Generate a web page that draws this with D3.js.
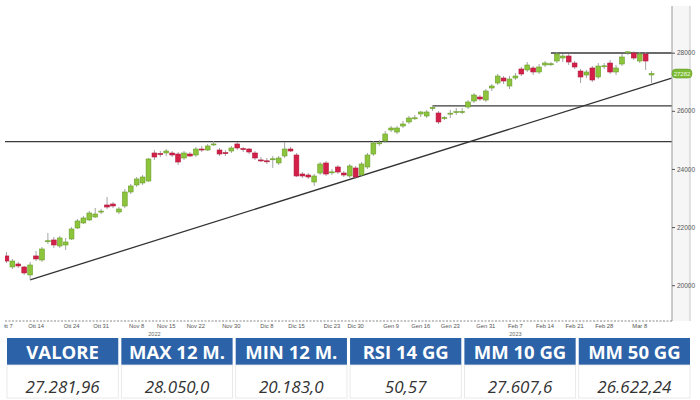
<!DOCTYPE html>
<html><head><meta charset="utf-8">
<script src="https://cdn.jsdelivr.net/npm/d3@7"></script>
<style>
html,body{margin:0;padding:0;background:#fff;}
svg{display:block;}
</style></head>
<body><svg id="c" width="700" height="400"></svg>
<script>
// ---- DATA ----
const dates = [
"2022-10-07","2022-10-10","2022-10-11","2022-10-12","2022-10-13","2022-10-14","2022-10-17","2022-10-18","2022-10-19","2022-10-20",
"2022-10-21","2022-10-24","2022-10-25","2022-10-26","2022-10-27","2022-10-28","2022-10-31","2022-11-01","2022-11-02","2022-11-03",
"2022-11-04","2022-11-07","2022-11-08","2022-11-09","2022-11-10","2022-11-11","2022-11-14","2022-11-15","2022-11-16","2022-11-17",
"2022-11-18","2022-11-21","2022-11-22","2022-11-23","2022-11-24","2022-11-25","2022-11-28","2022-11-29","2022-11-30","2022-12-01",
"2022-12-02","2022-12-05","2022-12-06","2022-12-07","2022-12-08","2022-12-09","2022-12-12","2022-12-13","2022-12-14","2022-12-15",
"2022-12-16","2022-12-19","2022-12-20","2022-12-21","2022-12-22","2022-12-23","2022-12-27","2022-12-28","2022-12-29","2022-12-30",
"2023-01-02","2023-01-03","2023-01-04","2023-01-05","2023-01-06","2023-01-09","2023-01-10","2023-01-11","2023-01-12","2023-01-13",
"2023-01-16","2023-01-17","2023-01-18","2023-01-19","2023-01-20","2023-01-23","2023-01-24","2023-01-25","2023-01-26","2023-01-27",
"2023-01-30","2023-01-31","2023-02-01","2023-02-02","2023-02-03","2023-02-06","2023-02-07","2023-02-08","2023-02-09","2023-02-10",
"2023-02-13","2023-02-14","2023-02-15","2023-02-16","2023-02-17","2023-02-20","2023-02-21","2023-02-22","2023-02-23","2023-02-24",
"2023-02-27","2023-02-28","2023-03-01","2023-03-02","2023-03-03","2023-03-06","2023-03-07","2023-03-08","2023-03-09","2023-03-10"
];
const open  = [21006,20627,20730,20627,20352,21006,20868,21500,21556,21350,21384,21590,21969,22141,22244,22347,22530,22760,22794,22519,
22726,23207,23448,23517,23585,24549,24530,24549,24549,24514,24377,24514,24480,24686,24652,24840,24652,24560,24618,24859,
24700,24686,24549,24310,24280,24330,24205,24446,24686,24480,23826,23792,23551,23860,24205,23880,24067,23860,23758,24033,
23792,24067,24514,24880,24962,25340,25271,25478,25616,25740,25891,25822,26090,25925,25740,25900,25950,25940,26131,26338,
26475,26372,26785,26957,27129,26854,27129,27439,27405,27474,27336,27577,27600,27714,27818,27886,27645,27370,27233,27474,
27164,27530,27645,27336,27611,28010,27990,27714,27955,27233];
const high  = [21143,20900,20800,20662,20800,21177,21315,21797,21660,21694,21625,21999,22278,22382,22554,22657,22622,23035,22863,22691,
23310,23482,23723,23792,24377,24652,24618,24686,24618,24583,24618,24583,24755,24790,24859,24962,24721,24652,24790,24927,
24755,24721,24618,24411,24377,24446,24446,24927,24755,24549,23895,23860,23826,24239,24274,23998,24136,23929,24170,24102,
24239,24549,24962,24996,25306,25478,25478,25650,25822,25856,25994,26028,26166,25994,25822,26028,26097,26097,26372,26613,
26544,26751,26923,27267,27198,27198,27301,27508,27680,27542,27611,27714,27680,28024,27955,27955,27714,27439,27405,27542,
27645,27645,27749,27577,27955,28050,28050,28024,28024,27370];
const low   = [20765,20559,20593,20352,20183,20832,20800,21418,21281,21281,21212,21556,21934,22106,22210,22313,22450,22622,22657,22450,
22657,23138,23380,23448,23551,24308,24411,24446,24411,24136,24308,24411,24411,24583,24618,24790,24446,24446,24549,24652,
24583,24514,24308,24239,24170,24033,24136,24377,24583,23723,23689,23655,23414,23792,23758,23792,23826,23723,23689,23655,
23723,23998,24446,24790,24893,25271,25203,25409,25547,25684,25788,25753,25994,25547,25684,25753,25856,25891,26063,26269,
26338,26304,26682,26889,26923,26751,27061,27198,27336,27233,27267,27508,27542,27645,27680,27577,27439,26957,27129,26992,
27095,27439,27267,27233,27542,27920,27749,27645,27405,26957];
const close = [20832,20832,20662,20421,20696,20903,21246,21530,21384,21625,21487,21934,22210,22313,22485,22450,22550,22690,22726,22622,
23207,23414,23655,23723,24343,24411,24500,24618,24480,24239,24549,24446,24686,24652,24790,24860,24514,24540,24721,24721,
24690,24583,24377,24300,24270,24350,24377,24686,24618,23758,23758,23723,23758,24170,23826,23900,23895,23792,24102,23723,
24170,24480,24893,24900,25203,25409,25409,25547,25753,25760,25960,25960,26110,25616,25770,25920,25970,25980,26304,26544,
26407,26682,26854,27198,27026,27095,27198,27267,27577,27336,27508,27645,27620,27955,27886,27680,27508,27164,27336,27061,
27542,27550,27336,27474,27852,28030,27818,27955,27714,27282];

const yTicks = [20000,22000,24000,26000,28000];
const xTickDates  = ["2022-10-07","2022-10-14","2022-10-24","2022-10-31","2022-11-08","2022-11-15","2022-11-22","2022-11-30","2022-12-08","2022-12-15","2022-12-23","2022-12-30","2023-01-09","2023-01-16","2023-01-23","2023-01-31","2023-02-07","2023-02-14","2023-02-21","2023-02-28","2023-03-08"];
const xTickLabels = ["Ott 7","Ott 14","Ott 24","Ott 31","Nov 8","Nov 15","Nov 22","Nov 30","Dic 8","Dic 15","Dic 23","Dic 30","Gen 9","Gen 16","Gen 23","Gen 31","Feb 7","Feb 14","Feb 21","Feb 28","Mar 8"];
const yearLabels = [{label:"2022", at:"2022-11-11"},{label:"2023", at:"2023-02-07"}];

// support / resistance levels: [value, start date]
const levelValues = [27990, 26170, 24940];
const levelStarts = ["2023-02-15", "2023-01-18", null];
// trend line: from the October low to the right edge
const trendFrom = {date:"2022-10-13", value:20183};
const trendTo   = {idx:112.4, value:27125};
const lastPrice = 27282;

const headers = ["VALORE","MAX 12 M.","MIN 12 M.","RSI 14 GG","MM 10 GG","MM 50 GG"];
const values  = ["27.281,96","28.050,0","20.183,0","50,57","27.607,6","26.622,24"];

// ---- CHART ----
const svg = d3.select("#c");
const plotL = 5, plotR = 672, plotT = 6, plotB = 321;

const x = d3.scaleBand().domain(dates).range([3.5, 654.5]).padding(0);
const cx = d => x(d) + x.bandwidth()/2;
const xi = d3.scaleLinear().domain([0, dates.length-1]).range([cx(dates[0]), cx(dates[dates.length-1])]);
const y = d3.scaleLinear().domain([20000, 28000]).range([285.2, 52.7]);

const defs = svg.append("defs");
defs.append("clipPath").attr("id","pc")
  .append("rect").attr("x",plotL).attr("y",plotT).attr("width",plotR-plotL).attr("height",plotB-plotT);
defs.append("clipPath").attr("id","xc")
  .append("rect").attr("x",4).attr("y",plotB-2).attr("width",plotR-4).attr("height",20);

// right axis panel
svg.append("rect").attr("x",plotR).attr("y",plotT).attr("width",18).attr("height",plotB-plotT).attr("fill","#f6f6f6");
svg.append("line").attr("x1",690).attr("x2",690).attr("y1",plotT).attr("y2",plotB).attr("stroke","#c8c8c8").attr("stroke-width",1);

const g = svg.append("g").attr("clip-path","url(#pc)");

// levels
levelValues.forEach((v,k)=>{
  const s = levelStarts[k];
  g.append("line")
    .attr("x1", s ? cx(s) : plotL).attr("x2", plotR)
    .attr("y1", y(v)).attr("y2", y(v))
    .attr("stroke","#3a3a3a").attr("stroke-width",1.4);
});
// trend line
g.append("line")
  .attr("x1", cx(trendFrom.date)).attr("y1", y(trendFrom.value))
  .attr("x2", xi(trendTo.idx)).attr("y2", y(trendTo.value))
  .attr("stroke","#333").attr("stroke-width",1.3);

// candles
const data = dates.map((d,i)=>({d, o:open[i], h:high[i], l:low[i], c:close[i]}));
const bw = 4.8;
const cg = g.append("g");
cg.selectAll("line.w").data(data).join("line").attr("class","w")
  .attr("x1",d=>cx(d.d)).attr("x2",d=>cx(d.d))
  .attr("y1",d=>y(d.h)).attr("y2",d=>y(d.l))
  .attr("stroke","#9a9a9a").attr("stroke-width",0.9);
cg.selectAll("rect.b").data(data).join("rect").attr("class","b")
  .attr("x",d=>cx(d.d)-bw/2).attr("width",bw)
  .attr("y",d=>y(Math.max(d.o,d.c)))
  .attr("height",d=>Math.max(1, Math.abs(y(d.o)-y(d.c))))
  .attr("fill",d=>d.c>=d.o ? "#8cc43c" : "#d42049")
  .attr("stroke",d=>d.c>=d.o ? "#6a9e2a" : "#b01a3c")
  .attr("stroke-width",0.6);

// right axis
const ya = d3.axisRight(y).tickValues(yTicks).tickSize(3).tickPadding(2).tickFormat(d3.format("d"));
const yg = svg.append("g").attr("transform",`translate(${plotR},0)`).call(ya);
yg.select(".domain").attr("stroke","#999").attr("d",`M0,${plotT}V${plotB}`);
yg.selectAll(".tick line").attr("stroke","#555");
yg.selectAll("text").attr("font-family","Liberation Sans, Arial, sans-serif").attr("font-size",6.5).attr("fill","#555");

// last price tag
const tag = svg.append("g").attr("transform",`translate(${plotR},${y(lastPrice)})`);
tag.append("rect").attr("x",0).attr("y",-4.5).attr("width",20).attr("height",9).attr("rx",4)
  .attr("fill","#7dbb35").attr("stroke","#5d9424").attr("stroke-width",0.5);
tag.append("text").attr("x",10).attr("y",2.2).attr("text-anchor","middle")
  .attr("font-family","Liberation Sans, Arial, sans-serif").attr("font-size",6).attr("fill","#eef7e0")
  .text(d3.format("d")(Math.round(lastPrice)));

// bottom axis
const labelOf = new Map(xTickDates.map((d,i)=>[d, xTickLabels[i]]));
const xa = d3.axisBottom(x).tickValues(xTickDates).tickSize(0).tickPadding(3).tickFormat(d=>labelOf.get(d));
const xg = svg.append("g").attr("clip-path","url(#xc)").append("g").attr("transform",`translate(0,${plotB})`).call(xa);
xg.select(".domain").attr("stroke","#888").attr("stroke-dasharray","2,1.5").attr("d",`M${plotL},0H${plotR}`);
xg.selectAll("text").attr("font-family","Liberation Sans, Arial, sans-serif").attr("font-size",5.8).attr("fill","#555");
yearLabels.forEach(yl=>{
  svg.append("text").attr("x",cx(yl.at)).attr("y",336).attr("text-anchor","middle")
    .attr("font-family","Liberation Sans, Arial, sans-serif").attr("font-size",5.5).attr("fill","#666").text(yl.label);
});

// ---- TABLE ----
const colX = d3.scaleBand().domain(d3.range(headers.length)).range([7, 690]).paddingInner(0.027);
const tg = svg.append("g");
tg.selectAll("rect.h").data(headers).join("rect").attr("class","h")
  .attr("x",(d,i)=>colX(i)).attr("y",338).attr("width",colX.bandwidth()).attr("height",27)
  .attr("fill","#2b62a8");
tg.selectAll("rect.v").data(values).join("rect").attr("class","v")
  .attr("x",(d,i)=>colX(i)).attr("y",365).attr("width",colX.bandwidth()).attr("height",33)
  .attr("fill","#fff").attr("stroke","#e4e4e4").attr("stroke-width",0.8);
tg.selectAll("text.h").data(headers).join("text").attr("class","h")
  .attr("x",(d,i)=>colX(i)+colX.bandwidth()/2).attr("y",358.5).attr("text-anchor","middle")
  .attr("font-family","Open Sans, sans-serif").attr("font-weight",700).attr("font-size",18.5)
  .attr("fill","#fff").text(d=>d);
tg.selectAll("text.v").data(values).join("text").attr("class","v")
  .attr("x",(d,i)=>colX(i)+colX.bandwidth()/2).attr("y",392.5).attr("text-anchor","middle")
  .attr("font-family","Open Sans, sans-serif").attr("font-style","italic").attr("font-weight",400).attr("font-size",17)
  .attr("fill","#333").text(d=>d);
</script></body></html>
